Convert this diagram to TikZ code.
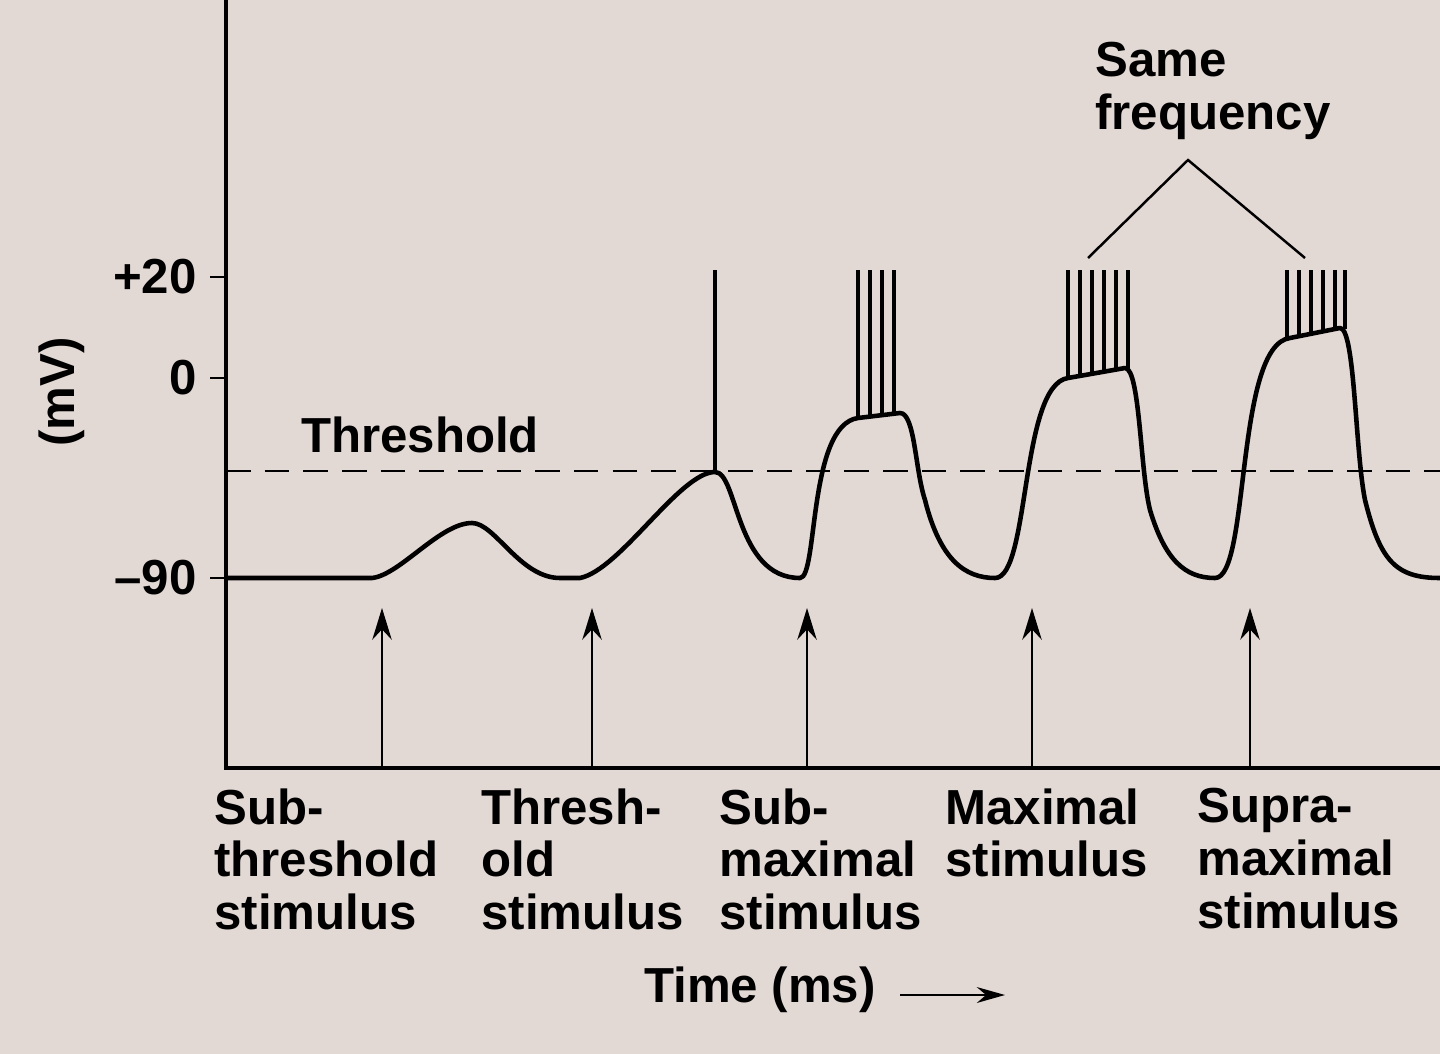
\documentclass[tikz,border=0pt]{standalone}
\usepackage{fontspec}
\setmainfont{Liberation Sans}
\usetikzlibrary{arrows.meta}
\definecolor{bg}{RGB}{226,216,212}
\begin{document}
\begin{tikzpicture}[x=0.02cm,y=-0.02cm,
  lab/.style={font=\bfseries\fontsize{28}{30}\selectfont,align=left,anchor=north west,inner sep=0},
  tick/.style={font=\bfseries\fontsize{28}{30}\selectfont,anchor=east,inner sep=0},
  ln/.style={line width=1.8pt},
  stim/.style={line width=1.5pt,-{Stealth[length=18pt,width=11pt]}}]
\fill[bg] (0,0) rectangle (1440,1054);
\useasboundingbox (0,0) rectangle (1440,1054);
% axes
\draw[line width=1.8pt] (226,0) -- (226,768) -- (1440,768);
\foreach \y in {277,378,578} \draw[line width=1.6pt] (210,\y) -- (226,\y);
\node[tick] at (197,277) {+20};
\node[tick] at (197,378) {0};
\node[tick] at (197,578) {\char"2013 90};
\node[font=\bfseries\fontsize{28}{30}\selectfont,rotate=90] at (62,392) {(mV)};
% threshold
\draw[line width=1.4pt,dash pattern=on 14pt off 8pt] (226,471) -- (1440,471);
\node[font=\bfseries\fontsize{28}{30}\selectfont] at (420,435) {Threshold};
% curve
\draw[line width=2.6pt,line join=round] (226,578) -- (372,578)
 .. controls (400,575) and (440,523) .. (472,523)
 .. controls (495,523) and (520,578) .. (560,578) -- (580,578)
 .. controls (620,570) and (680,472) .. (715,472)
 .. controls (738,472) and (735,578) .. (800,578)
 .. controls (818,578) and (808,425) .. (858,418) -- (900,413)
 .. controls (915,413) and (915,470) .. (925,500)
 .. controls (940,560) and (965,578) .. (995,578)
 .. controls (1030,578) and (1020,385) .. (1068,378) -- (1125,368)
 .. controls (1140,368) and (1140,470) .. (1150,510)
 .. controls (1165,560) and (1185,578) .. (1215,578)
 .. controls (1250,578) and (1235,345) .. (1290,338) -- (1340,328)
 .. controls (1355,328) and (1355,450) .. (1365,500)
 .. controls (1380,560) and (1395,578) .. (1440,578);
% spikes
\draw[ln] (715,472) -- (715,270);
\foreach \x/\b in {858/418,870/417,882/416,894/414} \draw[ln] (\x,\b) -- (\x,270);
\foreach \x/\b in {1068/378,1080/376,1092/374,1104/372,1116/370,1128/368} \draw[ln] (\x,\b) -- (\x,270);
\foreach \x/\b in {1287/339,1299/336,1311/334,1323/332,1335/330,1345/329} \draw[ln] (\x,\b) -- (\x,270);
% same frequency
\node[font=\bfseries\fontsize{28}{30}\selectfont,align=left,anchor=north west,inner sep=0] (sf) at (1095,42) {Same\\frequency};
\coordinate (apex) at (1188,160);
\draw[line width=1.4pt] (1088,258) -- (apex) -- (1305,258);
% stimulus arrows
\foreach \x in {382,592,807,1032,1250} \draw[stim] (\x,768) -- (\x,608);
\node[lab] at (214,788) {Sub-\\threshold\\stimulus};
\node[lab] at (481,788) {Thresh-\\old\\stimulus};
\node[lab] at (719,788) {Sub-\\maximal\\stimulus};
\node[lab] at (945,788) {Maximal\\stimulus};
\node[lab] at (1197,788) {Supra-\\maximal\\stimulus};
\node[font=\bfseries\fontsize{28}{30}\selectfont] (t) at (760,990) {Time (ms)};
\draw[line width=1.4pt,-{Stealth[length=16pt,width=9pt]}] (900,995) -- (1005,995);
\end{tikzpicture}
\end{document}
